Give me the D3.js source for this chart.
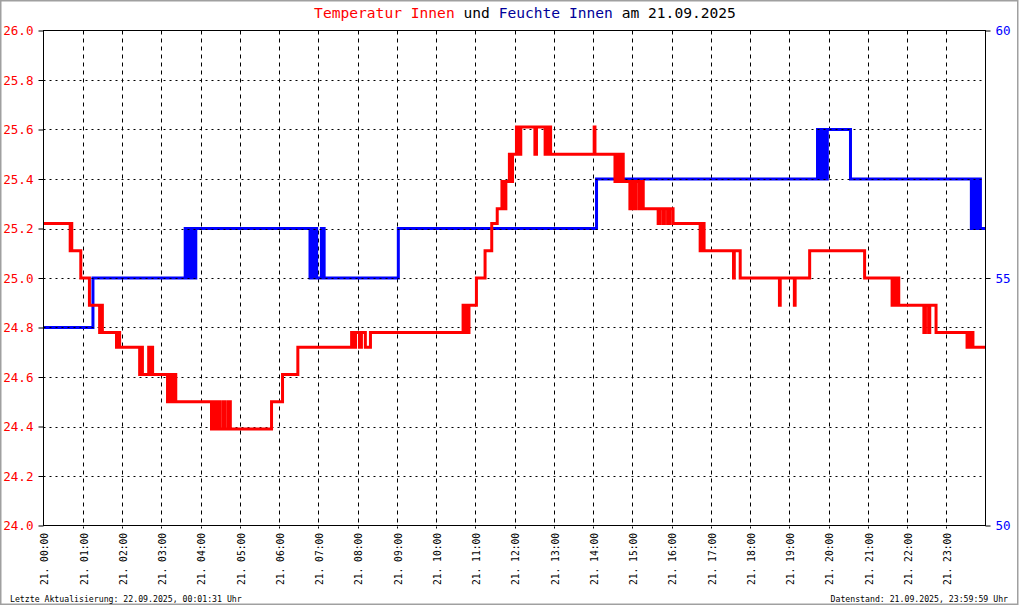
<!DOCTYPE html>
<meta charset="utf-8">
<html>
<head>
<style>
  body { margin: 0; background: #fff; }
  text { font-family: "DejaVu Sans Mono", "Liberation Mono", monospace; }
</style>
<script src="https://d3js.org/d3.v7.min.js"></script>
</head>
<body>
<div id="vis"></div>
<script>
  // Innentemperatur (°C), Stufenwerte: [Stunde, Wert]
  var tempData = [
    [0, 25.22], [0.68, 25.11], [0.70, 25.22], [0.72, 25.11], [0.95, 25.0], [1.17, 24.89],
    [1.43, 24.78], [1.46, 24.89], [1.50, 24.78], [1.86, 24.72], [1.88, 24.78], [1.94, 24.72],
    [2.45, 24.61], [2.48, 24.72], [2.52, 24.61], [2.68, 24.72], [2.72, 24.61], [2.75, 24.72],
    [2.78, 24.61], [3.16, 24.5], [3.20, 24.61], [3.25, 24.5], [3.30, 24.61], [3.37, 24.5],
    [4.28, 24.39], [4.33, 24.5], [4.38, 24.39], [4.45, 24.5], [4.50, 24.39], [4.58, 24.5],
    [4.62, 24.39], [4.70, 24.5], [4.76, 24.39], [5.81, 24.5], [6.09, 24.61], [6.48, 24.72],
    [7.85, 24.78], [7.90, 24.72], [7.95, 24.78], [8.05, 24.72], [8.10, 24.78], [8.20, 24.72],
    [8.33, 24.78], [10.69, 24.89], [10.74, 24.78], [10.78, 24.89], [10.81, 24.78], [10.84, 24.89],
    [11.03, 25.0], [11.25, 25.11], [11.42, 25.22], [11.56, 25.28], [11.68, 25.39], [11.72, 25.28],
    [11.78, 25.39], [11.87, 25.5], [11.91, 25.39], [11.95, 25.5], [12.05, 25.61], [12.10, 25.5],
    [12.16, 25.61], [12.52, 25.5], [12.56, 25.61], [12.78, 25.5], [12.82, 25.61], [12.86, 25.5],
    [12.89, 25.61], [12.92, 25.5], [14.03, 25.61], [14.05, 25.5], [14.56, 25.39], [14.62, 25.5],
    [14.68, 25.39], [14.72, 25.5], [14.77, 25.39], [14.94, 25.28], [15.0, 25.39], [15.06, 25.28],
    [15.10, 25.39], [15.18, 25.28], [15.24, 25.39], [15.28, 25.28], [15.66, 25.22], [15.70, 25.28],
    [15.78, 25.22], [15.82, 25.28], [15.90, 25.22], [15.96, 25.28], [16.04, 25.22], [16.73, 25.11],
    [16.77, 25.22], [16.83, 25.11], [17.58, 25.0], [17.60, 25.11], [17.75, 25.0], [18.75, 24.89],
    [18.77, 25.0], [19.13, 24.89], [19.15, 25.0], [19.52, 25.11], [20.92, 25.0], [21.62, 24.89],
    [21.66, 25.0], [21.72, 24.89], [21.76, 25.0], [21.79, 24.89], [22.43, 24.78], [22.47, 24.89],
    [22.55, 24.78], [22.58, 24.89], [22.74, 24.78], [23.53, 24.72], [23.58, 24.78], [23.62, 24.72],
    [23.65, 24.78], [23.68, 24.72], [24, 24.72]
  ];

  // Innenfeuchte (%), Stufenwerte: [Stunde, Wert]
  var humData = [
    [0, 54], [1.26, 55], [3.61, 56], [3.65, 55], [3.70, 56], [3.74, 55], [3.80, 56], [3.82, 55],
    [3.84, 56], [3.86, 55], [3.88, 56], [6.79, 55], [6.83, 56], [6.86, 55], [6.90, 56], [6.96, 55],
    [7.08, 56], [7.15, 55], [9.04, 56], [14.09, 57], [19.72, 58], [19.77, 57], [19.81, 58],
    [19.86, 57], [19.92, 58], [19.95, 57], [19.97, 58], [20.56, 57], [23.64, 56], [23.68, 57],
    [23.72, 56], [23.76, 57], [23.80, 56], [23.84, 57], [23.87, 56], [24, 56]
  ];

  var leftTicks = [24.0, 24.2, 24.4, 24.6, 24.8, 25.0, 25.2, 25.4, 25.6, 25.8, 26.0];
  var rightTicks = [50, 55, 60];
  var hourTicks = d3.range(0, 24);
  var hourLabels = hourTicks.map(function(h) { return "21. " + (h < 10 ? "0" + h : h) + ":00"; });

  var W = 1020, H = 606;
  var plot = {left: 43.5, right: 985.5, top: 30.5, bottom: 525.5};

  var x = d3.scaleLinear().domain([0, 24]).range([plot.left, plot.right]);
  var yT = d3.scaleLinear().domain([24, 26]).range([plot.bottom, plot.top]);
  var yH = d3.scaleLinear().domain([50, 60]).range([plot.bottom, plot.top]);

  var svg = d3.select("#vis").append("svg")
    .attr("width", W)
    .attr("height", H);

  svg.append("rect")
    .attr("x", 0.75).attr("y", 0.75)
    .attr("width", 1017).attr("height", 603.5)
    .style("fill", "#fff")
    .style("stroke", "#a0a0a0")
    .style("stroke-width", 1.5);

  // Titel
  var title = svg.append("text")
    .attr("x", 525)
    .attr("y", 18)
    .style("text-anchor", "middle")
    .style("font-size", "14.6px");
  title.append("tspan").style("fill", "#ff0000").text("Temperatur Innen");
  title.append("tspan").style("fill", "#000").text(" und ");
  title.append("tspan").style("fill", "#000099").text("Feuchte Innen");
  title.append("tspan").style("fill", "#000").text(" am 21.09.2025");

  // vertikale Gitterlinien (gestrichelt)
  svg.append("g")
    .selectAll("line")
    .data(hourTicks.slice(1))
    .enter().append("line")
    .attr("x1", function(d) { return Math.round(x(d)) + 0.5; })
    .attr("x2", function(d) { return Math.round(x(d)) + 0.5; })
    .attr("y1", plot.top)
    .attr("y2", plot.bottom + 3)
    .style("stroke", "#000")
    .style("stroke-dasharray", "4,4");

  // Feuchte zuerst
  var lineH = d3.line()
    .curve(d3.curveStepAfter)
    .x(function(d) { return x(d[0]); })
    .y(function(d) { return yH(d[1]); });

  svg.append("path")
    .datum(humData)
    .attr("d", lineH)
    .style("fill", "none")
    .style("stroke", "#0000ff")
    .style("stroke-width", 3);

  // horizontale Gitterlinien (gepunktet)
  svg.append("g")
    .selectAll("line")
    .data(leftTicks.slice(1, -1))
    .enter().append("line")
    .attr("x1", plot.left)
    .attr("x2", plot.right)
    .attr("y1", function(d) { return Math.round(yT(d)) + 0.5; })
    .attr("y2", function(d) { return Math.round(yT(d)) + 0.5; })
    .style("stroke", "#000")
    .style("stroke-dasharray", "2,4");

  var lineT = d3.line()
    .curve(d3.curveStepAfter)
    .x(function(d) { return x(d[0]); })
    .y(function(d) { return yT(d[1]); });

  svg.append("path")
    .datum(tempData)
    .attr("d", lineT)
    .style("fill", "none")
    .style("stroke", "#ff0000")
    .style("stroke-width", 3);

  // Rahmen
  svg.append("rect")
    .attr("x", plot.left).attr("y", plot.top)
    .attr("width", plot.right - plot.left)
    .attr("height", plot.bottom - plot.top)
    .style("fill", "none")
    .style("stroke", "#000");

  // linke Achse
  var leftAxis = svg.append("g")
    .attr("transform", "translate(" + plot.left + ",0)")
    .call(d3.axisLeft(yT).tickValues(leftTicks).tickSize(5).tickPadding(5).tickFormat(d3.format(".1f")));
  leftAxis.select(".domain").remove();
  leftAxis.selectAll("text")
    .style("fill", "#ff0000")
    .style("font-size", "12.6px")
    .style("font-family", "DejaVu Sans Mono, monospace");
  leftAxis.selectAll("line").style("stroke", "#000");

  // rechte Achse
  var rightAxis = svg.append("g")
    .attr("transform", "translate(" + plot.right + ",0)")
    .call(d3.axisRight(yH).tickValues(rightTicks).tickSize(5).tickPadding(5));
  rightAxis.select(".domain").remove();
  rightAxis.selectAll("text")
    .style("fill", "#0000ff")
    .style("font-size", "12.6px")
    .style("font-family", "DejaVu Sans Mono, monospace");
  rightAxis.selectAll("line").style("stroke", "#000");

  // Zeitbeschriftung
  svg.append("g")
    .selectAll("text")
    .data(hourTicks)
    .enter().append("text")
    .attr("transform", function(d) {
      return "translate(" + (x(d) + 1.5) + ",533) rotate(-90)";
    })
    .attr("dy", "0.35em")
    .style("text-anchor", "end")
    .style("font-size", "9.6px")
    .text(function(d, i) { return hourLabels[i]; });

  // Fußzeilen
  svg.append("text")
    .attr("x", 10)
    .attr("y", 602)
    .style("font-size", "8.2px")
    .text("Letzte Aktualisierung: 22.09.2025, 00:01:31 Uhr");

  svg.append("text")
    .attr("x", 1008)
    .attr("y", 602)
    .style("text-anchor", "end")
    .style("font-size", "8.2px")
    .text("Datenstand: 21.09.2025, 23:59:59 Uhr");
</script>
</body>
</html>
